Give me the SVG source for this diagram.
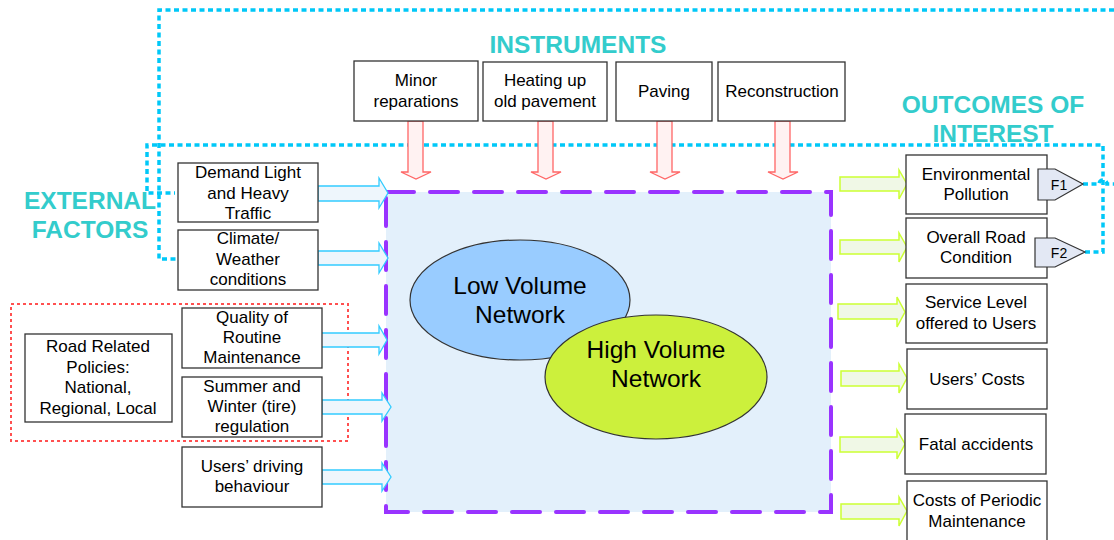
<svg xmlns="http://www.w3.org/2000/svg" width="1114" height="540" viewBox="0 0 1114 540">
  <defs>
    <style>
      .box { fill: #ffffff; stroke: #333333; stroke-width: 1.3; }
      .lbl { font-family: "Liberation Sans", Arial, sans-serif; font-size: 17px; fill: #000000; text-anchor: middle; }
      .big { font-family: "Liberation Sans", Arial, sans-serif; font-size: 24.5px; fill: #000000; text-anchor: middle; }
      .title { font-family: "Liberation Sans", Arial, sans-serif; font-size: 24.5px; font-weight: bold; fill: #33CCCC; text-anchor: middle; }
      .cyan { fill: none; stroke: #00C8F8; stroke-width: 3.5; stroke-dasharray: 5 3.5; }
      .reddot { fill: none; stroke: #FF5050; stroke-width: 2; stroke-dasharray: 3 3; }
      .inArrow { fill: #EEF6FC; stroke: #33CCFF; stroke-width: 1.3; }
      .instArrow { fill: #FFF2F2; stroke: #FF6666; stroke-width: 1.3; }
      .outArrow { fill: #F0F8E6; stroke: #CCFF33; stroke-width: 1.5; }
      .flag { fill: #E3E8F4; stroke: #333333; stroke-width: 1.2; }
    </style>
  </defs>

  <!-- System boundary -->
  <g id="system">
    <rect x="386" y="192" width="445" height="320" fill="#E3F0FB"/>
    <rect x="386" y="192" width="445" height="320" fill="none" stroke="#9933FF" stroke-width="4" stroke-dasharray="28 16" stroke-linecap="round"/>
  </g>

  <g id="low-volume">
    <ellipse cx="520" cy="300" rx="110" ry="60" fill="#99CCFF" stroke="#333333" stroke-width="1.2"/>
    <text class="big" x="520" y="294">Low Volume</text>
    <text class="big" x="520" y="323">Network</text>
  </g>
  <g id="high-volume">
    <ellipse cx="656" cy="377" rx="111" ry="62" fill="#CCF03C" stroke="#333333" stroke-width="1.2"/>
    <text class="big" x="656" y="358">High Volume</text>
    <text class="big" x="656" y="387">Network</text>
  </g>

  <!-- Titles -->
  <text class="title" x="578" y="53">INSTRUMENTS</text>
  <text class="title" x="993" y="113">OUTCOMES OF</text>
  <text class="title" x="993" y="142">INTEREST</text>
  <text class="title" x="90" y="209">EXTERNAL</text>
  <text class="title" x="90" y="238">FACTORS</text>

  <!-- Connectors -->
  <g id="connectors">
    <!-- feedback loops -->
    <path class="cyan" d="M1114,10 H159 V259 H178"/>
    <path class="cyan" d="M1085,252 H1103 V145 H147 V193 H175"/>
    <path class="cyan" d="M1083,184 H1099 A4,4 0 0 1 1107,184 H1114"/>
    <!-- policy grouping -->
    <rect class="reddot" x="11" y="304" width="337" height="137"/>

    <!-- instrument arrows -->
    <path class="instArrow" d="M408,121 H423 V172 H431 L416,179 L401,172 H408 Z"/>
    <path class="instArrow" d="M538,121 H553 V172 H561 L546,179 L531,172 H538 Z"/>
    <path class="instArrow" d="M657,121 H672 V172 H680 L665,179 L650,172 H657 Z"/>
    <path class="instArrow" d="M775,121 H790 V172 H798 L783,179 L768,172 H775 Z"/>

    <!-- external factor arrows -->
    <path class="inArrow" d="M318,186 H379 V178 L388,193 L379,208 V201 H318 Z"/>
    <path class="inArrow" d="M318,251 H379 V243 L388,258 L379,273 V265 H318 Z"/>
    <path class="inArrow" d="M318,333 H379 V326 L387,340 L379,354 V347 H318 Z"/>
    <path class="inArrow" d="M322,400 H382 V393 L391,407 L382,421 V414 H322 Z"/>
    <path class="inArrow" d="M322,470 H382 V463 L391,477 L382,491 V484 H322 Z"/>

    <!-- outcome arrows -->
    <path class="outArrow" d="M840,177 H899 V170 L907,184 L899,199 V191 H840 Z"/>
    <path class="outArrow" d="M840,240 H899 V233 L907,247 L899,262 V254 H840 Z"/>
    <path class="outArrow" d="M838,304 H897 V297 L905,312 L897,327 V319 H838 Z"/>
    <path class="outArrow" d="M841,371 H899 V364 L907,378 L899,393 V386 H841 Z"/>
    <path class="outArrow" d="M840,437 H897 V430 L905,444 L897,459 V452 H840 Z"/>
    <path class="outArrow" d="M841,504 H899 V497 L907,511 L899,526 V519 H841 Z"/>
  </g>

  <!-- Instruments -->
  <g id="minor-reparations">
    <rect class="box" x="354" y="61" width="124" height="60"/>
    <text class="lbl" x="416" y="86">Minor</text>
    <text class="lbl" x="416" y="107">reparations</text>
  </g>
  <g id="heating-up">
    <rect class="box" x="483" y="62" width="124" height="59"/>
    <text class="lbl" x="545" y="86">Heating up</text>
    <text class="lbl" x="545" y="107">old pavement</text>
  </g>
  <g id="paving">
    <rect class="box" x="616" y="62" width="96" height="59"/>
    <text class="lbl" x="664" y="97">Paving</text>
  </g>
  <g id="reconstruction">
    <rect class="box" x="718" y="62" width="127" height="59"/>
    <text class="lbl" x="782" y="97">Reconstruction</text>
  </g>

  <!-- External factors -->
  <g id="demand">
    <rect class="box" x="178" y="163" width="140" height="59"/>
    <text class="lbl" x="248" y="178">Demand Light</text>
    <text class="lbl" x="248" y="199">and Heavy</text>
    <text class="lbl" x="248" y="219">Traffic</text>
  </g>
  <g id="climate">
    <rect class="box" x="178" y="230" width="140" height="60"/>
    <text class="lbl" x="248" y="244">Climate/</text>
    <text class="lbl" x="248" y="265">Weather</text>
    <text class="lbl" x="248" y="285">conditions</text>
  </g>
  <g id="policies">
    <rect class="box" x="25" y="334" width="147" height="88"/>
    <text class="lbl" x="98" y="352">Road Related</text>
    <text class="lbl" x="98" y="373">Policies:</text>
    <text class="lbl" x="98" y="393">National,</text>
    <text class="lbl" x="98" y="414">Regional, Local</text>
  </g>
  <g id="routine-maintenance">
    <rect class="box" x="182" y="308" width="140" height="60"/>
    <text class="lbl" x="252" y="323">Quality of</text>
    <text class="lbl" x="252" y="343">Routine</text>
    <text class="lbl" x="252" y="363">Maintenance</text>
  </g>
  <g id="tire-regulation">
    <rect class="box" x="182" y="377" width="140" height="60"/>
    <text class="lbl" x="252" y="392">Summer and</text>
    <text class="lbl" x="252" y="412">Winter (tire)</text>
    <text class="lbl" x="252" y="432">regulation</text>
  </g>
  <g id="driving-behaviour">
    <rect class="box" x="182" y="447" width="140" height="60"/>
    <text class="lbl" x="252" y="472">Users’ driving</text>
    <text class="lbl" x="252" y="492">behaviour</text>
  </g>

  <!-- Outcomes -->
  <g id="pollution">
    <rect class="box" x="906" y="155" width="141" height="59"/>
    <text class="lbl" x="976" y="180">Environmental</text>
    <text class="lbl" x="976" y="200">Pollution</text>
    <path class="flag" d="M1038,169 H1055 L1083,184 L1055,200 H1038 Z"/>
    <text class="lbl" x="1059" y="190" style="font-size:14px">F1</text>
  </g>
  <g id="road-condition">
    <rect class="box" x="906" y="218" width="141" height="60"/>
    <text class="lbl" x="976" y="243">Overall Road</text>
    <text class="lbl" x="976" y="263">Condition</text>
    <path class="flag" d="M1035,238 H1055 L1085,252 L1055,267 H1035 Z"/>
    <text class="lbl" x="1059" y="258" style="font-size:14px">F2</text>
  </g>
  <g id="service-level">
    <rect class="box" x="906" y="284" width="141" height="59"/>
    <text class="lbl" x="976" y="308">Service Level</text>
    <text class="lbl" x="976" y="329">offered to Users</text>
  </g>
  <g id="users-costs">
    <rect class="box" x="907" y="349" width="140" height="60"/>
    <text class="lbl" x="977" y="385">Users’ Costs</text>
  </g>
  <g id="fatal-accidents">
    <rect class="box" x="905" y="414" width="141" height="60"/>
    <text class="lbl" x="976" y="450">Fatal accidents</text>
  </g>
  <g id="periodic-maintenance">
    <rect class="box" x="907" y="481" width="140" height="62"/>
    <text class="lbl" x="977" y="506">Costs of Periodic</text>
    <text class="lbl" x="977" y="527">Maintenance</text>
  </g>
</svg>
